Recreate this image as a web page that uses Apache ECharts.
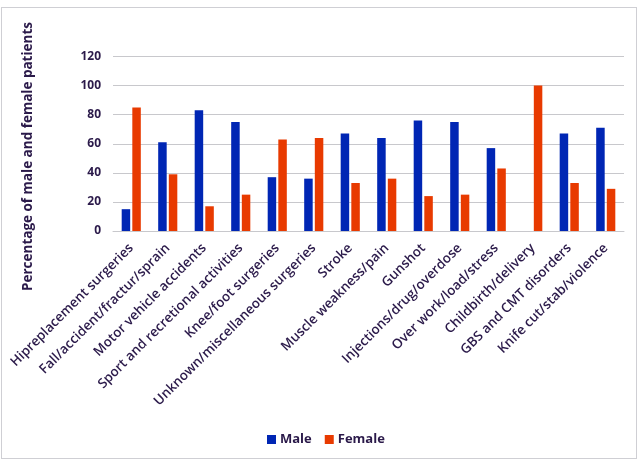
<!DOCTYPE html>
<html><head><meta charset="utf-8">
<script src="https://cdn.jsdelivr.net/npm/echarts@6/dist/echarts.min.js"></script>
<style>html,body{margin:0;padding:0;background:#fff}#c{width:639px;height:462px;}
#b{position:absolute;left:1px;top:7px;width:636px;height:452px;border:1px solid #cfcfd4;box-sizing:border-box;pointer-events:none}</style>
</head><body><div id="c"></div><div id="b"></div>
<script>
const categories = ["Hipreplacement surgeries","Fall/accident/fractur/sprain","Motor vehicle accidents","Sport and recretional activities","Knee/foot surgeries","Unknown/miscellaneous surgeries","Stroke","Muscle weakness/pain","Gunshot","Injections/drug/overdose","Over work/load/stress","Childbirth/delivery","GBS and CMT disorders","Knife cut/stab/violence"];
const male = [15,61,83,75,37,36,67,64,76,75,57,0,67,71];
const female = [85,39,17,25,63,64,33,36,24,25,43,100,33,29];
const yTicks = {min:0,max:120,interval:20};
const yTitle = 'Percentage of male and female patients';
const txt = '#2b1a4a';
const chart = echarts.init(document.getElementById('c'));
chart.setOption({
  animation:false,
  grid:{left:113,right:15,top:56.5,bottom:231},
  legend:{bottom:11,left:262,itemWidth:9,itemHeight:9,itemGap:13,icon:'rect',
    textStyle:{color:txt,fontSize:13,fontWeight:'bold',fontFamily:'Open Sans',padding:[0,0,0,-1]},data:['Male','Female']},
  graphic:[{type:'text',left:21,top:22,rotation:Math.PI/2,
    style:{text:yTitle,fill:txt,font:'bold 13.5px "Open Sans"'}}],
  xAxis:{type:'category',data:categories,
    axisLine:{lineStyle:{color:'#c8c8cc'}},
    axisTick:{lineStyle:{color:'#c8c8cc'},length:4},
    axisLabel:{rotate:45,interval:0,color:txt,fontSize:13.4,fontWeight:600,fontFamily:'Open Sans',margin:15}},
  yAxis:{type:'value',min:yTicks.min,max:yTicks.max,interval:yTicks.interval,
    axisLine:{show:false},axisTick:{show:false},
    splitLine:{lineStyle:{color:'#c8c8cc'}},
    axisLabel:{color:txt,fontSize:12,fontWeight:'bold',fontFamily:'Open Sans',margin:12}},
  series:[
    {name:'Male',type:'bar',data:male,barWidth:8.5,barGap:'25%',itemStyle:{color:'#0026b4'}},
    {name:'Female',type:'bar',data:female,barWidth:8.5,barGap:'25%',itemStyle:{color:'#e83a00'}}
  ]
});
</script></body></html>
